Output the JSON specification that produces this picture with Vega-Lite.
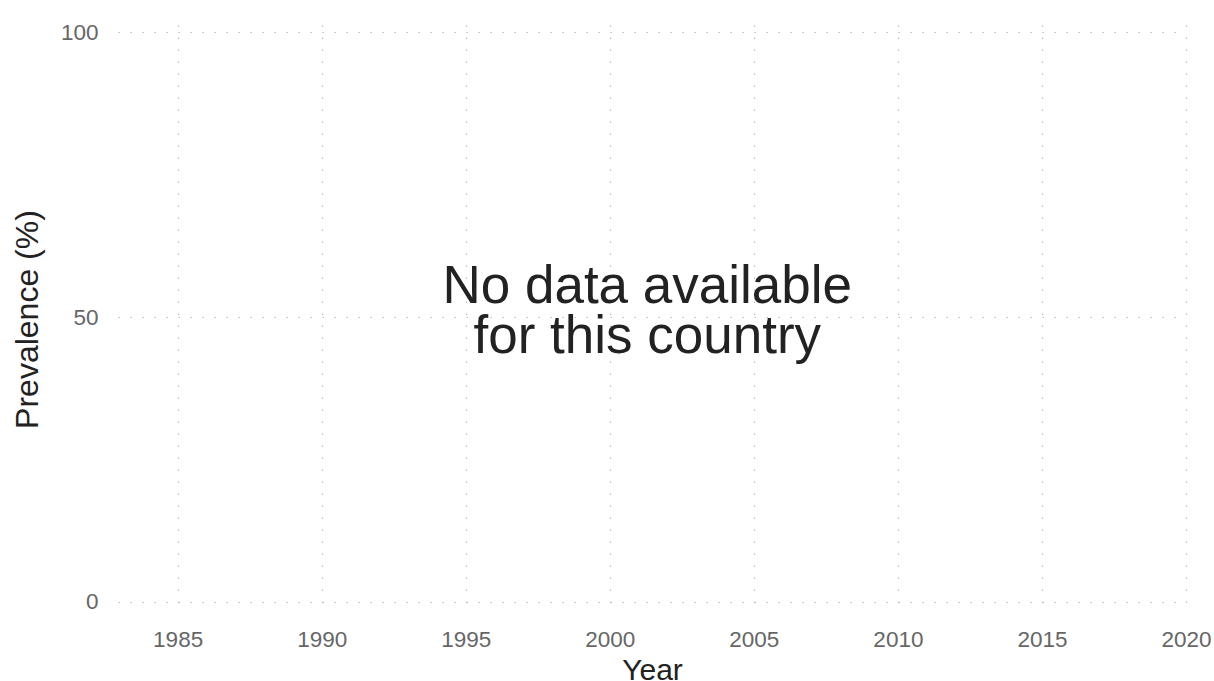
{
  "$schema": "https://vega.github.io/schema/vega-lite/v6.json",
  "width": 1068,
  "height": 588,
  "autosize": {"type": "none"},
  "padding": {"left": 118, "top": 25, "right": 28, "bottom": 68},
  "background": "white",
  "config": {
    "view": {"stroke": null},
    "font": "Liberation Sans",
    "axis": {
      "domain": false,
      "ticks": false,
      "grid": true,
      "gridColor": "#bdbdbd",
      "gridWidth": 1.2,
      "gridDash": [1.5, 10.5],
      "labelFont": "Liberation Sans",
      "titleFont": "Liberation Sans",
      "labelColor": "#666666",
      "titleColor": "#222222",
      "titleFontWeight": "normal",
      "zindex": 1
    }
  },
  "data": {
    "values": [
      {"year": 2001.3, "prevalence": 50, "label": "No data available\n\u2005for this country"}
    ]
  },
  "mark": {
    "type": "text",
    "font": "Liberation Sans",
    "fontSize": 53,
    "lineHeight": 50,
    "lineBreak": "\n",
    "align": "center",
    "baseline": "middle",
    "dy": -30,
    "color": "#222222"
  },
  "encoding": {
    "x": {
      "field": "year",
      "type": "quantitative",
      "scale": {"domain": [1982.93, 2020.0], "nice": false, "zero": false},
      "axis": {
        "title": "Year",
        "values": [1985, 1990, 1995, 2000, 2005, 2010, 2015, 2020],
        "format": "d",
        "labelFontSize": 22.5,
        "labelBaseline": "alphabetic",
        "labelPadding": 33,
        "labelFlush": false,
        "labelOverlap": false,
        "titleFontSize": 30,
        "titleBaseline": "alphabetic",
        "titleY": 66,
        "titleAlign": "center"
      }
    },
    "y": {
      "field": "prevalence",
      "type": "quantitative",
      "scale": {"domain": [-1.93, 101.23], "nice": false, "zero": false},
      "axis": {
        "title": "Prevalence (%)",
        "values": [0, 50, 100],
        "labelFontSize": 22.5,
        "labelPadding": 20,
        "labelBaseline": "middle",
        "labelFlush": false,
        "labelOverlap": false,
        "titleFontSize": 32,
        "titleAngle": 270,
        "titleX": -81,
        "titleY": 294,
        "titleAlign": "center",
        "titleBaseline": "alphabetic"
      }
    },
    "text": {"field": "label", "type": "nominal"}
  }
}
